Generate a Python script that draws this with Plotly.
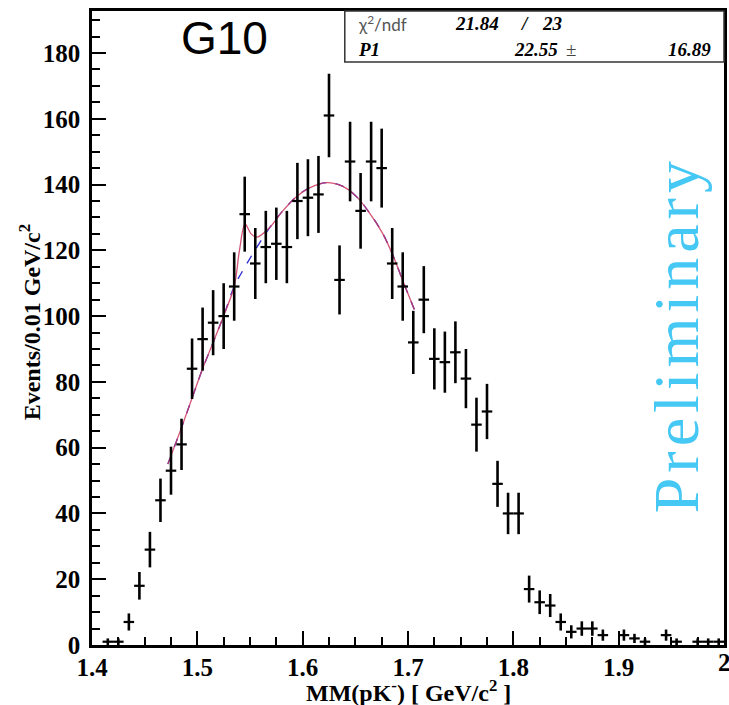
import plotly.graph_objects as go

# ---- histogram data (bin centres, counts, errors) ----
bin_centers = [1.415, 1.425, 1.435, 1.445, 1.455, 1.465, 1.475, 1.485, 1.495,
               1.505, 1.515, 1.525, 1.535, 1.545, 1.555, 1.565, 1.575, 1.585, 1.595,
               1.605, 1.615, 1.625, 1.635, 1.645, 1.655, 1.665, 1.675, 1.685, 1.695,
               1.705, 1.715, 1.725, 1.735, 1.745, 1.755, 1.765, 1.775, 1.785, 1.795,
               1.805, 1.815, 1.825, 1.835, 1.845, 1.855, 1.865, 1.875, 1.885,
               1.905, 1.915, 1.925, 1.945, 1.955, 1.975, 1.985, 1.995]
counts = [1, 1, 7, 18, 29, 44, 53, 61, 84,
          93, 98, 100, 109, 131, 116, 121, 122, 121, 135,
          136, 137, 161, 111, 147, 132, 147, 145, 116, 109,
          92, 105, 87, 86, 89, 81, 67, 71, 49, 40,
          40, 17, 13, 12, 7, 4, 5, 5, 3,
          3, 2, 1, 3, 1, 1, 1, 1]
count_errors = [1.0, 1.0, 2.6, 4.2, 5.4, 6.6, 7.3, 7.8, 9.2,
                9.6, 9.9, 10.0, 10.4, 11.4, 10.8, 11.0, 11.0, 11.0, 11.6,
                11.7, 11.7, 12.7, 10.5, 12.1, 11.5, 12.1, 12.0, 10.8, 10.4,
                9.6, 10.2, 9.3, 9.3, 9.4, 9.0, 8.2, 8.4, 7.0, 6.3,
                6.3, 4.1, 3.6, 3.5, 2.6, 2.0, 2.2, 2.2, 1.7,
                1.7, 1.4, 1.0, 1.7, 1.0, 1.0, 1.0, 1.0]
half_bin = 0.005

# ---- fit curves ----
fit_x = [1.472, 1.486, 1.496, 1.505, 1.515, 1.5255, 1.535, 1.540, 1.5453, 1.551,
         1.5566, 1.5689, 1.5811, 1.5943, 1.6066, 1.6226, 1.6377, 1.6509, 1.6632,
         1.6755, 1.685, 1.696, 1.706]
fit_y = [55, 67, 76, 84, 92, 100.5, 109, 120, 128, 125,
         124, 127, 132, 136.4, 139, 140.6, 139.5, 136.4, 131.5,
         125.4, 119, 110, 102]
bkg_x = [1.472, 1.486, 1.496, 1.505, 1.515, 1.5255, 1.535, 1.5453, 1.5566,
         1.5689, 1.5811, 1.5943, 1.6066, 1.6226, 1.6377, 1.6509, 1.6632,
         1.6755, 1.685, 1.696, 1.706]
bkg_y = [55, 67, 76, 84, 92, 100.5, 109, 115, 121,
         127, 132, 136.4, 139, 140.6, 139.5, 136.4, 131.5,
         125.4, 119, 110, 102]

x_ticks = [1.4, 1.5, 1.6, 1.7, 1.8, 1.9]
x_tick_labels = ["1.4", "1.5", "1.6", "1.7", "1.8", "1.9"]
x_last_tick = 2.0
x_last_label = "2"
y_ticks = [0, 20, 40, 60, 80, 100, 120, 140, 160, 180]

W, H = 729, 705
L, R, T, B = 92, 727, 11, 645


def px(xp):
    return (xp - L) / (R - L)


def py(yp):
    return (B - yp) / (B - T)


SERIF = "Liberation Serif"

fig = go.Figure()
fig.add_trace(go.Scatter(
    x=bkg_x, y=bkg_y, mode="lines", line=dict(color="rgb(50,50,210)", width=1.4, dash="dash", shape="spline"),
    hoverinfo="skip", showlegend=False))
fig.add_trace(go.Scatter(
    x=fit_x, y=fit_y, mode="lines", line=dict(color="rgb(205,55,95)", width=1.3, shape="spline"),
    opacity=0.85, hoverinfo="skip", showlegend=False))
fig.add_trace(go.Scatter(
    x=bin_centers, y=counts, mode="markers",
    marker=dict(size=2, color="black"),
    error_y=dict(type="data", array=count_errors, visible=True, thickness=2.6, width=0, color="black"),
    error_x=dict(type="constant", value=half_bin, visible=True, thickness=2.2, width=0, color="black"),
    showlegend=False))

axis_common = dict(
    showline=True, linecolor="black", linewidth=2.5, mirror=True,
    ticks="inside", ticklen=14, tickwidth=2, tickcolor="black",
    showgrid=False, zeroline=False,
    tickfont=dict(family=SERIF, size=25, color="black", weight="bold"),
)
fig.update_layout(
    width=W, height=H,
    margin=dict(l=L, r=W - R, t=T, b=H - B, pad=0),
    paper_bgcolor="white", plot_bgcolor="white",
    xaxis=dict(range=[1.4, 2.0], tickvals=x_ticks, ticktext=x_tick_labels,
               ticklabelstandoff=-2,
               minor=dict(ticks="inside", ticklen=8, tickwidth=2, dtick=0.025, tick0=1.4, tickcolor="black"),
               **axis_common),
    yaxis=dict(range=[0, (B - T) / ((B - 53) / 180.0)], tickvals=y_ticks,
               minor=dict(ticks="inside", ticklen=8, tickwidth=2, dtick=5, tick0=0, tickcolor="black"),
               ticklabelstandoff=4,
               **axis_common),
)

ann = []
# last x tick label (partly off the page, as in the original)
ann.append(dict(text=x_last_label, x=x_last_tick, y=py(662), xref="x", yref="paper",
                xanchor="center", yanchor="middle", showarrow=False,
                font=dict(family=SERIF, size=25, color="black", weight="bold")))
# axis titles
ann.append(dict(text="MM(pK<sup>-</sup>) [ GeV/c<sup>2</sup> ]", x=0.5, y=py(691), xref="paper", yref="paper",
                xanchor="center", yanchor="middle", showarrow=False,
                font=dict(family=SERIF, size=24, color="black", weight="bold")))
ann.append(dict(text="Events/0.01 GeV/c<sup>2</sup>", x=px(30), y=py(322), xref="paper", yref="paper",
                xanchor="center", yanchor="middle", showarrow=False, textangle=-90,
                font=dict(family=SERIF, size=24, color="black", weight="bold")))
# G10 label
ann.append(dict(text="G10", x=px(225), y=py(38), xref="paper", yref="paper",
                xanchor="center", yanchor="middle", showarrow=False,
                font=dict(family="Liberation Sans", size=46, color="black")))
# Preliminary (letter-spaced)
ann.append(dict(text='<span style="letter-spacing:5px">Preliminary</span>', x=px(680), y=py(335),
                xref="paper", yref="paper",
                xanchor="center", yanchor="middle", showarrow=False, textangle=-90,
                font=dict(family=SERIF, size=64, color="rgb(70,200,245)")))
# stats box texts
stat_font = dict(family=SERIF, size=19, color="black")
ann.append(dict(text="χ<sup>2</sup>/ndf", x=px(357), y=py(24), xref="paper", yref="paper",
                xanchor="left", yanchor="middle", showarrow=False,
                font=dict(family="Lato", size=17, color="#555555")))
ann.append(dict(text="<b><i>21.84</i></b>", x=px(455), y=py(24), xref="paper", yref="paper",
                xanchor="left", yanchor="middle", showarrow=False, font=stat_font))
ann.append(dict(text="<b><i>/</i></b>", x=px(520), y=py(24), xref="paper", yref="paper",
                xanchor="left", yanchor="middle", showarrow=False, font=stat_font))
ann.append(dict(text="<b><i>23</i></b>", x=px(542), y=py(24), xref="paper", yref="paper",
                xanchor="left", yanchor="middle", showarrow=False, font=stat_font))
ann.append(dict(text="<b><i>P1</i></b>", x=px(357), y=py(50), xref="paper", yref="paper",
                xanchor="left", yanchor="middle", showarrow=False, font=stat_font))
ann.append(dict(text="<b><i>22.55</i></b>", x=px(562), y=py(50), xref="paper", yref="paper",
                xanchor="right", yanchor="middle", showarrow=False, font=stat_font))
ann.append(dict(text="±", x=px(566), y=py(50), xref="paper", yref="paper",
                xanchor="left", yanchor="middle", showarrow=False,
                font=dict(family=SERIF, size=19, color="#444444")))
ann.append(dict(text="<b><i>16.89</i></b>", x=px(716), y=py(50), xref="paper", yref="paper",
                xanchor="right", yanchor="middle", showarrow=False, font=stat_font))
fig.update_layout(annotations=ann)

fig.add_shape(type="rect", xref="paper", yref="paper", x0=px(346), x1=1.0, y0=py(62), y1=1.0,
              line=dict(color="#333333", width=1.5), fillcolor="rgba(0,0,0,0)")

fig.write_html("out.html")
